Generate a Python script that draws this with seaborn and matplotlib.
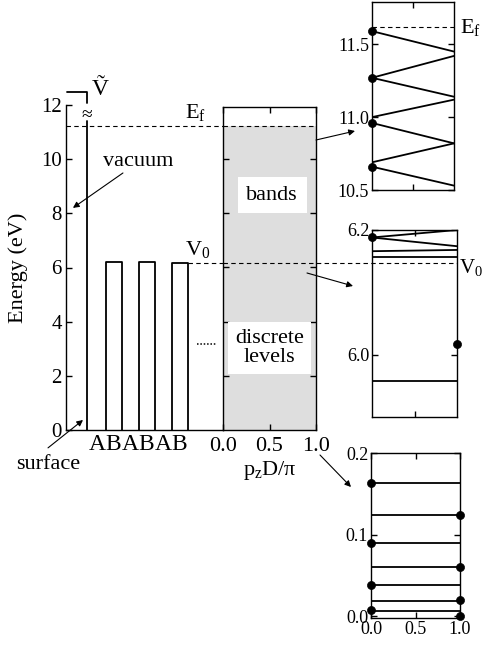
import numpy as np
import pandas as pd
import matplotlib.pyplot as plt
import seaborn as sns

# ---- values ---------------------------------------------------------------
layer_labels = ["A", "B", "A", "B", "A", "B"]
barrier_heights = [6.22, 6.20, 6.15]      # eV, the B barriers
vacuum_cut = 11.41                         # vacuum wall drawn up to here
E_f = 11.23
V_0 = 6.16
kz_ticks = [0.0, 0.5, 1.0]

# zoom 1: bands near E_f (energy at p_zD/pi = 0 and = 1)
top_e0 = [11.59, 11.27, 11.27, 11.00, 10.96, 10.69, 10.66]
top_e1 = [11.45, 11.42, 11.14, 11.12, 10.82, 10.82, 10.53]
top_dots = [11.59, 11.27, 10.96, 10.66]
top_Ef = 11.62

# zoom 2: just above V_0
mid_e0 = [6.188, 6.188, 6.166, 6.156, 5.958]
mid_e1 = [6.200, 6.174, 6.168, 6.156, 5.958]
mid_dots_left = [6.188]
mid_dots_right = [6.017]

# zoom 3: bottom of the spectrum, flat levels
low_levels = [0.163, 0.124, 0.090, 0.061, 0.038, 0.019, 0.0065]
low_dots_left = [0.163, 0.090, 0.038, 0.008]
low_dots_right = [0.124, 0.061, 0.020, 0.001]

# ---- style ------------------------------------------------------------------
sns.set_theme(style="ticks")
plt.rcParams["font.family"] = ["Liberation Serif", "DejaVu Serif"]
plt.rcParams.update({
    "mathtext.fontset": "custom",
    "mathtext.rm": "Liberation Serif",
    "mathtext.it": "Liberation Serif:italic",
    "axes.edgecolor": "black", "axes.linewidth": 1.0,
    "text.color": "black", "xtick.color": "black", "ytick.color": "black",
    "axes.labelcolor": "black",
    "xtick.direction": "in", "ytick.direction": "in",
    "xtick.major.size": 4.5, "ytick.major.size": 4.5,
    "xtick.major.width": 1.0, "ytick.major.width": 1.0,
})

W, H = 483, 647
fig = plt.figure(figsize=(W / 100, H / 100), dpi=100)


def box(x0, y0, x1, y1):
    return [x0 / W, 1 - y1 / H, (x1 - x0) / W, (y1 - y0) / H]


def P(x, y):
    return (x / W, 1 - y / H)


dash = (0, (4, 3))
lw = 1.3

# ---- main potential panel -------------------------------------------------
ax = fig.add_axes(box(66, 105, 223, 430))
ax.set_xlim(-1.27, 8.24)
ax.set_ylim(0, 12)
for s in ["top", "right"]:
    ax.spines[s].set_visible(False)

rows = []
for i, h in enumerate(barrier_heights):
    l, r = 2 * i + 1.15, 2 * i + 2.1
    for x, y in [(l, 0), (l, h), (r, h), (r, 0)]:
        rows.append({"barrier": i, "x": x, "E": y})
prof = pd.DataFrame(rows)
sns.lineplot(data=prof, x="x", y="E", units="barrier", estimator=None,
             sort=False, color="black", lw=lw, ax=ax)
ax.plot([0, 0], [0, vacuum_cut], color="black", lw=lw)
ax.plot([-1.2, 0, 0], [12.48, 12.48, 12.07], color="black", lw=lw, clip_on=False)
ax.text(0, 11.62, "≈", ha="center", va="center", fontsize=14)
ax.text(0.3, 12.36, "\u1e7c", ha="left", va="baseline", fontsize=17)

ax.axhline(E_f, color="black", lw=0.8, ls=dash)
ax.plot([6.15, 8.24], [V_0, V_0], color="black", lw=0.8, ls=dash)
ax.plot([6.67, 7.88], [3.17, 3.17], color="black", lw=1.1, ls=(0, (1, 1.2)))

ax.text(5.94, 11.52, r"E$_\mathrm{f}$", fontsize=16, ha="left", va="baseline")
ax.text(5.94, 6.46, r"V$_0$", fontsize=16, ha="left", va="baseline")

ax.set_yticks(range(0, 13, 2))
ax.tick_params(axis="y", labelsize=15, pad=3)
ax.set_xticks([i + 0.6 for i in range(len(layer_labels))], layer_labels)
ax.tick_params(axis="x", length=0, labelsize=17, pad=3)
ax.set_xlabel("")
ax.set_ylabel("Energy (eV)", fontsize=16)
ax.yaxis.set_label_coords(-0.24, 0.5)

ax.text(3.09, 9.9, "vacuum", fontsize=16, ha="center", va="center")
ax.annotate("", xy=(-0.85, 8.2), xytext=(2.18, 9.49),
            arrowprops=dict(arrowstyle="-|>", lw=0.8, color="black",
                            mutation_scale=9, shrinkA=0, shrinkB=0))
ax.text(-2.36, -1.29, "surface", fontsize=16, ha="center", va="center")
ax.annotate("", xy=(-0.24, 0.37), xytext=(-2.36, -0.66),
            arrowprops=dict(arrowstyle="-|>", lw=0.8, color="black",
                            mutation_scale=9, shrinkA=0, shrinkB=0),
            annotation_clip=False)

# ---- band panel -----------------------------------------------------------
ax2 = fig.add_axes(box(223, 107, 316, 430))
ax2.set_xlim(0, 1)
ax2.set_ylim(0, 11.92)
ax2.fill_between([0, 1], 0, E_f, color="#dedede", lw=0, zorder=0)
ax2.axhline(E_f, color="black", lw=0.8, ls=dash)
ax2.plot([0, 2.52], [V_0, V_0], color="black", lw=0.8, ls=dash,
         clip_on=False, zorder=5)
ax2.set_yticks([2, 4, 6, 8, 10])
ax2.tick_params(axis="y", left=True, right=True, labelleft=False)
ax2.set_xticks(kz_ticks, [f"{v:.1f}" for v in kz_ticks])
ax2.tick_params(axis="x", top=True, bottom=True, labelsize=16, pad=5)
ax2.set_xlabel(r"p$_\mathrm{z}$D/π", fontsize=16, labelpad=2)
ax2.text(0.53, 8.67, "bands", fontsize=16, ha="center", va="center",
         bbox=dict(facecolor="white", edgecolor="none", pad=6))
ax2.text(0.5, 3.03, "discrete\nlevels", fontsize=16, ha="center", va="center",
         linespacing=1.05, bbox=dict(facecolor="white", edgecolor="none", pad=5))

arrow = dict(arrowstyle="-|>", lw=0.8, color="black", mutation_scale=9,
             shrinkA=0, shrinkB=0)
for a, b in [((316, 140), (355, 131)), ((307, 273), (353, 286)),
             ((320, 455), (351, 487))]:
    ax2.annotate("", xy=P(*b), xytext=P(*a), xycoords="figure fraction",
                 textcoords="figure fraction", arrowprops=arrow,
                 annotation_clip=False)


# ---- zoom panels ----------------------------------------------------------
def segments(ax_, e0, e1):
    df = pd.DataFrame({"branch": list(range(len(e0))) * 2,
                       "x": [0.0] * len(e0) + [1.0] * len(e1),
                       "E": list(e0) + list(e1)})
    sns.lineplot(data=df, x="x", y="E", units="branch", estimator=None,
                 color="black", lw=lw, ax=ax_)


def dots(ax_, x, ys):
    sns.scatterplot(x=[x] * len(ys), y=ys, s=34, color="black",
                    edgecolor="black", clip_on=False, zorder=6, ax=ax_)


def frame(ax_, yt, fmt="{:.1f}", xlabels=False):
    ax_.set_xlim(0, 1)
    ax_.set_yticks(yt, [fmt.format(v) for v in yt])
    ax_.tick_params(axis="y", left=True, right=True, labelsize=13, pad=2)
    if xlabels:
        ax_.set_xticks(kz_ticks, [f"{v:.1f}" for v in kz_ticks])
        ax_.tick_params(axis="x", top=True, bottom=True, labelsize=13, pad=2)
    else:
        ax_.set_xticks([0.5])
        ax_.tick_params(axis="x", top=True, bottom=True, labelbottom=False)
    ax_.set_xlabel("")
    ax_.set_ylabel("")
    ax_.patch.set_alpha(0)


axT = fig.add_axes(box(372, 2, 454, 190))
segments(axT, top_e0, top_e1)
dots(axT, 0.0, top_dots)
axT.axhline(top_Ef, color="black", lw=0.8, ls=dash)
axT.set_ylim(10.5, 11.79)
frame(axT, [10.5, 11.0, 11.5])

axM = fig.add_axes(box(372, 230, 457, 417))
segments(axM, mid_e0, mid_e1)
dots(axM, 0.0, mid_dots_left)
dots(axM, 1.0, mid_dots_right)
axM.set_ylim(5.9, 6.2)
frame(axM, [6.0, 6.2])

axB = fig.add_axes(box(371, 453, 460, 618))
for e in low_levels:
    axB.plot([0, 1], [e, e], color="black", lw=lw)
dots(axB, 0.0, low_dots_left)
dots(axB, 1.0, low_dots_right)
axB.set_ylim(-0.002, 0.2)
frame(axB, [0.0, 0.1, 0.2], xlabels=True)

fig.text(*P(460, 28), r"E$_\mathrm{f}$", fontsize=16, ha="left", va="center")
fig.text(*P(459, 268), r"V$_0$", fontsize=15, ha="left", va="center")

fig.savefig("out.png", dpi=100)
